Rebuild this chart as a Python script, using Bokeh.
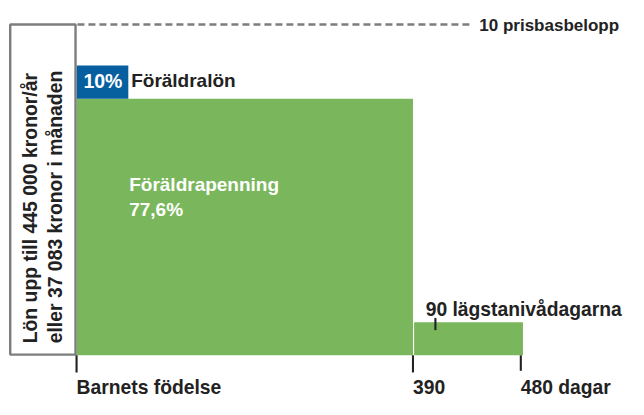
import numpy as np
from bokeh.plotting import figure
from bokeh.models import Range1d
from bokeh.embed import file_html
from bokeh.resources import INLINE
from bokeh.core.properties import value

# ---------------- data ----------------
day_ticks = [0, 390, 480]                       # days
tick_labels = ["Barnets födelse", "390", "480 dagar"]
foraldrapenning_pct = 77.6                      # % of salary (up to 10 prisbasbelopp)
foraldralon_pct = 10.0                          # extra on top
lagstaniva_pct = 10.0                           # low-level days (approx.)
ceiling_pct = 100.0                             # 10 prisbasbelopp
box_lines = ["Lön upp till 445 000 kronor/år", "eller 37 083 kronor i månaden"]
ceiling_label = "10 prisbasbelopp"
lagstaniva_label = "90 lägstanivådagarna"
# schematic (not-to-scale) axis: the last 90 days are drawn stretched
schematic_pos = [0, 390, 515]

def xpos(days):
    return np.interp(days, day_ticks, schematic_pos)

GREEN = "#7ab75c"
BLUE = "#065f9f"
GREY = "#7d7d7d"
DARK = "#222222"
FONT = value("Liberation Sans")
DY = 1.66   # baseline correction (y units)
DX = 6.4    # baseline correction for rotated text (x units)

p = figure(width=628, height=399, x_range=Range1d(-88.18, 639.85),
           y_range=Range1d(-13.37, 107.27), output_backend="svg",
           toolbar_location=None, min_border=0,
           x_axis_location=None, y_axis_location=None)
p.grid.visible = False
p.outline_line_color = None
p.background_fill_color = "white"
p.border_fill_color = "white"

x0, x390, x480 = xpos(day_ticks)

# bars
p.quad(left=[x0], right=[x390], bottom=[0], top=[foraldrapenning_pct],
       fill_color=GREEN, line_color=None)
p.quad(left=[x0], right=[x0 + 60], bottom=[foraldrapenning_pct],
       top=[foraldrapenning_pct + foraldralon_pct], fill_color=BLUE, line_color=None)
p.quad(left=[x390 + 1.3], right=[x480 + 2.5], bottom=[0], top=[lagstaniva_pct],
       fill_color=GREEN, line_color=None)

# left salary box
p.quad(left=[-76.9], right=[-1.2], bottom=[0.2], top=[ceiling_pct],
       fill_color="white", line_color=GREY, line_width=2.4)

# ceiling dashed line
p.segment(x0=[x0 + 1], y0=[ceiling_pct], x1=[455.6], y1=[ceiling_pct],
          line_color=GREY, line_width=2.4, line_dash="7 4")
p.text(x=[466.9], y=[ceiling_pct - 1.95 + DY], text=[ceiling_label],
       text_font=FONT, text_font_style="bold", text_font_size="17px",
       text_color=DARK, text_align="left", text_baseline="alphabetic")

# ticks on the time axis
tick_x = xpos(day_ticks)
p.segment(x0=tick_x, y0=[0, 0, 0], x1=tick_x, y1=[-5.2, -5.2, -4.7],
          line_color=DARK, line_width=2.1)
p.text(x=tick_x, y=[-11.3 + DY] * 3, text=tick_labels,
       text_font=FONT, text_font_style="bold", text_font_size="19.3px",
       text_color=DARK, text_align="left", text_baseline="alphabetic")

# low-level days marker + label
p.segment(x0=[x390 + 26], y0=[7.6], x1=[x390 + 26], y1=[11.3],
          line_color=DARK, line_width=2.1)
p.text(x=[x390 + 14.7], y=[12.2 + DY], text=[lagstaniva_label],
       text_font=FONT, text_font_style="bold", text_font_size="19.3px",
       text_color=DARK, text_align="left", text_baseline="alphabetic")

# foräldralön labels
p.text(x=[x0 + 7.9], y=[81.4 + DY], text=[f"{foraldralon_pct:.0f}%"],
       text_font=FONT, text_font_style="bold", text_font_size="19.5px",
       text_color="white", text_align="left", text_baseline="alphabetic")
p.text(x=[x0 + 63.3], y=[81.4 + DY], text=["Föräldralön"],
       text_font=FONT, text_font_style="bold", text_font_size="19px",
       text_color=DARK, text_align="left", text_baseline="alphabetic")

# föräldrapenning labels
pct_txt = f"{foraldrapenning_pct:.1f}".replace(".", ",") + "%"
p.text(x=[x0 + 61, x0 + 61], y=[50.0 + DY, 42.4 + DY], text=["Föräldrapenning", pct_txt],
       text_font=FONT, text_font_style="bold", text_font_size="19px",
       text_color="white", text_align="left", text_baseline="alphabetic")

# rotated text in the salary box
p.text(x=[-47.5 - DX, -18.6 - DX], y=[3.6, 3.6], text=box_lines, angle=np.pi / 2,
       text_font=FONT, text_font_style="bold", text_font_size="19.4px",
       text_color=DARK, text_align="left", text_baseline="alphabetic")

open("out.html", "w").write(file_html(p, INLINE))
